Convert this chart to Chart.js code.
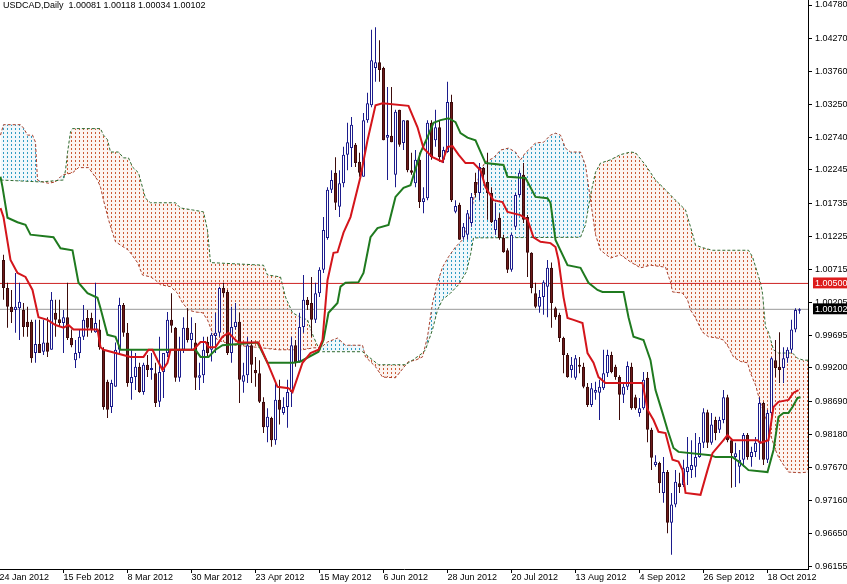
<!DOCTYPE html>
<html>
<head>
<meta charset="utf-8">
<script src="https://cdn.jsdelivr.net/npm/chart.js@4.4.1/dist/chart.umd.min.js"></script>
<style>
  html, body { margin: 0; padding: 0; background: #fff; }
  #wrap { position: relative; width: 847px; height: 584px; }
  #title { position: absolute; left: 3px; top: 0px; font: 9px "Liberation Sans", Arial, sans-serif; color: #000; white-space: pre; }
</style>
</head>
<body>
<div id="wrap">
  <canvas id="chart" width="847" height="584"></canvas>
  <div id="title"></div>
</div>
<script>
const symbol = 'USDCAD'
const period = 'Daily'

// daily candles, one per trading day (index 0 = 25 Jan 2012)
const opens = [
  1.0086,1.0043,1.0014,1.0009,1.0012,1.0009,0.9991,0.9991,0.9943,0.9957,
  0.9945,0.9959,0.9948,1.0005,0.9995,0.9989,0.9998,0.9966,0.9932,0.9943,
  0.9968,0.9997,0.9997,0.9975,0.9979,0.9948,0.9899,0.9860,0.9891,0.9948,
  1.0017,0.9974,0.9897,0.9906,0.9922,0.9883,0.9925,0.9917,0.9912,0.9868,
  0.9914,0.9943,0.9994,0.9982,0.9905,0.9948,0.9982,0.9963,0.9959,0.9905,
  0.9909,0.9960,0.9948,0.9969,0.9974,1.0043,1.0037,0.9943,0.9983,0.9991,
  0.9899,0.9909,0.9955,0.9917,0.9912,0.9868,0.9829,0.9843,0.9809,0.9871,
  0.9851,0.9860,0.9883,0.9955,0.9930,0.9983,1.0025,1.0020,0.9994,1.0035,
  1.0071,1.0120,1.0194,1.0220,1.0168,1.0204,1.0248,1.0258,1.0263,1.0237,
  1.0214,1.0301,1.0324,1.0381,1.0390,1.0381,1.0274,1.0277,1.0217,1.0317,
  1.0266,1.0301,1.0224,1.0204,1.0240,1.0175,1.0181,1.0297,1.0270,1.0290,
  1.0240,1.0252,1.0329,1.0160,1.0171,1.0121,1.0125,1.0143,1.0206,1.0189,
  1.0228,1.0206,1.0189,1.0132,1.0151,1.0120,1.0101,1.0071,1.0137,1.0186,
  1.0217,1.0152,1.0097,1.0035,1.0014,1.0029,1.0045,1.0074,1.0012,1.0002,
  0.9966,0.9940,0.9917,0.9905,0.9925,0.9922,0.9891,0.9863,0.9882,0.9882,
  0.9889,0.9912,0.9940,0.9922,0.9906,0.9879,0.9891,0.9922,0.9875,0.9851,
  0.9858,0.9905,0.9825,0.9771,0.9774,0.9728,0.9760,0.9682,0.9710,0.9743,
  0.9740,0.9760,0.9763,0.9768,0.9783,0.9805,0.9852,0.9805,0.9840,0.9825,
  0.9840,0.9875,0.9809,0.9783,0.9768,0.9779,0.9817,0.9783,0.9791,0.9805,
  0.9866,0.9779,0.9851,0.9932,0.9922,0.9920,0.9935,0.9948,0.9979,1.00081
]
const highs = [
  1.0094,1.0051,1.0040,1.0066,1.0051,1.0020,1.0014,0.9994,0.9994,0.9994,
  0.9994,0.9998,1.0037,1.0025,1.0025,1.0009,1.0051,0.9979,0.9963,0.9979,
  1.0017,1.0009,1.0005,1.0051,0.9994,0.9952,0.9902,0.9902,0.9959,1.0028,
  1.0020,0.9989,0.9948,0.9943,0.9928,0.9928,0.9940,0.9943,0.9928,0.9968,
  0.9943,1.0006,1.0035,0.9983,0.9968,0.9998,1.0012,0.9998,0.9989,0.9928,
  0.9968,0.9968,0.9974,1.0005,1.0045,1.0051,1.0040,1.0014,1.0020,1.0005,
  0.9928,0.9968,0.9963,0.9937,0.9932,0.9875,0.9858,0.9845,0.9897,0.9902,
  0.9875,0.9902,0.9968,0.9963,1.0005,1.0063,1.0029,1.0060,1.0051,1.0075,
  1.0152,1.0198,1.0224,1.0244,1.0224,1.0260,1.0297,1.0306,1.0266,1.0251,
  1.0312,1.0343,1.0440,1.0444,1.0424,1.0383,1.0352,1.0352,1.0317,1.0317,
  1.0301,1.0301,1.0251,1.0255,1.0251,1.0198,1.0301,1.0301,1.0317,1.0301,
  1.0260,1.0360,1.0340,1.0178,1.0174,1.0143,1.0163,1.0189,1.0220,1.0235,
  1.0229,1.0251,1.0198,1.0174,1.0158,1.0125,1.0104,1.0128,1.0189,1.0224,
  1.0235,1.0155,1.0098,1.0051,1.0040,1.0055,1.0086,1.0082,1.0014,1.0005,
  0.9968,0.9943,0.9937,0.9940,0.9937,0.9928,0.9897,0.9897,0.9899,0.9902,
  0.9948,0.9948,0.9945,0.9925,0.9909,0.9897,0.9930,0.9928,0.9879,0.9874,
  0.9914,0.9914,0.9828,0.9786,0.9776,0.9783,0.9763,0.9728,0.9763,0.9759,
  0.9779,0.9814,0.9809,0.9820,0.9814,0.9858,0.9856,0.9851,0.9845,0.9845,
  0.9886,0.9879,0.9812,0.9805,0.9794,0.9820,0.9820,0.9799,0.9814,0.9875,
  0.9868,0.9856,0.9937,0.9963,0.9975,0.9952,0.9952,0.9994,1.0012,1.00118
]
const lows = [
  1.0025,0.9982,0.9989,0.9974,0.9963,0.9968,0.9968,0.9928,0.9928,0.9943,
  0.9940,0.9937,0.9948,0.9968,0.9983,0.9943,0.9963,0.9952,0.9920,0.9935,
  0.9963,0.9968,0.9974,0.9974,0.9948,0.9856,0.9843,0.9851,0.9891,0.9943,
  0.9968,0.9891,0.9871,0.9886,0.9882,0.9879,0.9906,0.9902,0.9860,0.9860,
  0.9874,0.9937,0.9974,0.9899,0.9899,0.9943,0.9959,0.9948,0.9886,0.9886,
  0.9897,0.9937,0.9930,0.9943,0.9968,1.0029,0.9940,0.9928,0.9979,0.9866,
  0.9882,0.9897,0.9897,0.9891,0.9866,0.9820,0.9806,0.9799,0.9802,0.9833,
  0.9848,0.9828,0.9860,0.9922,0.9928,0.9974,1.0009,0.9968,0.9989,1.0029,
  1.0066,1.0117,1.0189,1.0163,1.0152,1.0198,1.0224,1.0229,1.0229,1.0214,
  1.0214,1.0297,1.0321,1.0360,1.0360,1.0270,1.0209,1.0267,1.0198,1.0260,
  1.0255,1.0221,1.0217,1.0198,1.0166,1.0158,1.0178,1.0240,1.0260,1.0237,
  1.0235,1.0251,1.0175,1.0158,1.0117,1.0117,1.0117,1.0137,1.0183,1.0178,
  1.0204,1.0148,1.0143,1.0125,1.0117,1.0097,1.0066,1.0068,1.0132,1.0183,
  1.0143,1.0060,1.0035,1.0012,1.0005,1.0002,0.9998,0.9982,0.9994,0.9960,
  0.9912,0.9905,0.9905,0.9902,0.9912,0.9889,0.9860,0.9860,0.9871,0.9840,
  0.9886,0.9906,0.9912,0.9902,0.9840,0.9866,0.9886,0.9856,0.9856,0.9845,
  0.9856,0.9806,0.9763,0.9768,0.9728,0.9713,0.9666,0.9633,0.9706,0.9728,
  0.9737,0.9740,0.9751,0.9752,0.9782,0.9797,0.9797,0.9802,0.9809,0.9820,
  0.9835,0.9806,0.9736,0.9737,0.9743,0.9768,0.9779,0.9768,0.9783,0.9779,
  0.9771,0.9774,0.9840,0.9906,0.9897,0.9897,0.9928,0.9943,0.9975,1.00034
]
const closes = [
  1.0043,1.0014,1.0006,1.0014,1.0022,0.9983,0.9983,0.9935,0.9957,0.9943,
  0.9959,0.9945,1.0025,0.9994,0.9989,0.9998,0.9966,0.9955,0.9943,0.9968,
  0.9994,0.9982,0.9979,0.9989,0.9952,0.9860,0.9856,0.9897,0.9948,1.0017,
  0.9974,0.9897,0.9906,0.9922,0.9883,0.9925,0.9917,0.9920,0.9866,0.9914,
  0.9943,0.9994,0.9985,0.9905,0.9948,0.9982,0.9963,0.9974,0.9905,0.9909,
  0.9948,0.9943,0.9971,0.9974,1.0043,1.0035,0.9943,0.9983,0.9991,0.9902,
  0.9909,0.9955,0.9925,0.9912,0.9868,0.9829,0.9845,0.9809,0.9871,0.9856,
  0.9860,0.9883,0.9955,0.9928,0.9983,1.0025,1.0017,0.9994,1.0035,1.0071,
  1.0132,1.0194,1.0209,1.0174,1.0204,1.0248,1.0267,1.0294,1.0235,1.0220,
  1.0301,1.0327,1.0393,1.0390,1.0378,1.0270,1.0278,1.0267,1.0314,1.0263,
  1.0301,1.0224,1.0220,1.0240,1.0175,1.0181,1.0297,1.0244,1.0290,1.0244,
  1.0255,1.0329,1.0178,1.0169,1.0117,1.0137,1.0158,1.0183,1.0189,1.0229,
  1.0217,1.0189,1.0144,1.0148,1.0120,1.0098,1.0071,1.0125,1.0186,1.0220,
  1.0148,1.0097,1.0043,1.0014,1.0029,1.0052,1.0074,1.0020,0.9998,0.9966,
  0.9940,0.9906,0.9925,0.9935,0.9922,0.9891,0.9863,0.9889,0.9886,0.9891,
  0.9912,0.9940,0.9914,0.9906,0.9879,0.9891,0.9923,0.9858,0.9858,0.9858,
  0.9902,0.9825,0.9782,0.9776,0.9743,0.9760,0.9682,0.9710,0.9745,0.9737,
  0.9766,0.9768,0.9771,0.9783,0.9805,0.9852,0.9805,0.9833,0.9820,0.9840,
  0.9875,0.9809,0.9789,0.9789,0.9779,0.9817,0.9783,0.9791,0.9805,0.9866,
  0.9779,0.9851,0.9935,0.9920,0.9917,0.9935,0.9948,0.9979,1.0009,1.00102
]

// ichimoku lines, [bar index, price] at the corners
const tenkan = [
  [-0.75,1.0166],[0,1.0152],[1.75,1.0086],[3.5,1.0066],[5.5,1.0060],[7.25,1.0040],[8.75,0.9998],[11,0.9994],
  [13,0.9986],[15,0.9982],[16.25,0.9986],[17.5,0.9979],[23.5,0.9979],[24.25,0.9952],[25,0.9948],[31.75,0.9937],
  [35,0.9937],[36.25,0.9948],[37.25,0.9948],[38.5,0.9932],[39.75,0.9917],[41,0.9928],[41.75,0.9948],[47.5,0.9948],
  [49.25,0.9960],[50.5,0.9960],[51.25,0.9952],[53,0.9952],[54.75,0.9968],[56.25,0.9974],[58,0.9963],[58.75,0.9959],
  [63.75,0.9959],[66,0.9928],[68.5,0.9891],[71.25,0.9889],[72.25,0.9883],[74.75,0.9928],[76.75,0.9943],[78.75,0.9948],
  [79.75,0.9963],[81,1.0055],[82.5,1.0097],[83.5,1.0098],[85,1.0128],[86.75,1.0152],[89.25,1.0214],[91,1.0270],
  [93,1.0324],[94.75,1.0327],[101.25,1.0323],[103.5,1.0290],[105,1.0258],[107.25,1.0244],[109.75,1.0237],[111,1.0260],
  [112.25,1.0261],[113.75,1.0248],[115.5,1.0235],[117.5,1.0235],[119.25,1.0224],[120.5,1.0198],[122.5,1.0178],[124.75,1.0175],
  [126,1.0160],[129.25,1.0155],[131,1.0148],[132.5,1.0121],[134.25,1.0114],[136.75,1.0112],[138,1.0106],[138.75,1.0086],
  [140,1.0029],[141,0.9997],[142.5,0.9994],[144.75,0.9989],[146,0.9943],[147.5,0.9928],[148.75,0.9906],[150.5,0.9897],
  [159.75,0.9897],[161,0.9856],[162.5,0.9840],[163.75,0.9822],[165.5,0.9820],[167.25,0.9779],[168.75,0.9776],[169.75,0.9763],
  [170.5,0.9728],[174.25,0.9725],[176,0.9763],[177.25,0.9789],[180,0.9809],[181,0.9817],[182.25,0.9809],[188.5,0.9809],
  [189.25,0.9805],[191.25,0.9809],[192.5,0.9860],[193.75,0.9868],[196.25,0.9871],[197.5,0.9882],[198.75,0.9886]
]
const kijun = [
  [-0.75,1.0214],[-0.25,1.0198],[1,1.0151],[3.5,1.0144],[5.5,1.0140],[6.75,1.0125],[12.5,1.0121],[14.25,1.0104],
  [17.25,1.0101],[18.75,1.0051],[21,1.0035],[23.5,1.0028],[24.25,1.0012],[26,0.9971],[28,0.9968],[29.25,0.9948],
  [48,0.9948],[49.25,0.9937],[51.25,0.9937],[53,0.9948],[54.75,0.9955],[63.5,0.9959],[66,0.9928],[72.5,0.9928],
  [74.25,0.9930],[78.75,0.9945],[80,0.9963],[81.25,1.0005],[83.5,1.0020],[84.25,1.0045],[85.5,1.0051],[88.75,1.0052],
  [90,1.0066],[91.75,1.0121],[93.5,1.0135],[96.25,1.0140],[98,1.0183],[100,1.0197],[101.75,1.0201],[104.25,1.0251],
  [106,1.0275],[107.5,1.0297],[109.25,1.0301],[111.25,1.0304],[113,1.0298],[114.25,1.0281],[116,1.0274],[118,1.0270],
  [120.5,1.0235],[125,1.0232],[126,1.0214],[130.5,1.0212],[133,1.0183],[136,1.0181],[136.75,1.0174],[138,1.0117],
  [141,1.0078],[144.25,1.0074],[146.25,1.0051],[148.5,1.0040],[149.75,1.0037],[155,1.0037],[156.25,0.9998],[157.5,0.9968],
  [160,0.9963],[161.75,0.9932],[163,0.9886],[164.75,0.9851],[166,0.9825],[167.5,0.9797],[168.75,0.9791],[176.75,0.9786],
  [178,0.9783],[182.25,0.9783],[184.25,0.9774],[186.25,0.9763],[191,0.9760],[192.5,0.9794],[193.75,0.9845],[195,0.9851],
  [196.25,0.9851],[197.25,0.9860],[198.5,0.9874],[199.25,0.9875]
]
const spanA = [
  [-0.75,1.0278],[0,1.0294],[4.25,1.0294],[5,1.0289],[6,1.0278],[7.25,1.0278],[8,1.0267],[8.5,1.0209],
  [9.75,1.0206],[11.25,1.0204],[13,1.0206],[14.25,1.0214],[15,1.0217],[17.25,1.0220],[18.75,1.0228],[21.25,1.0228],
  [23.5,1.0209],[24.25,1.0198],[25,1.0178],[26.25,1.0148],[27.25,1.0128],[28,1.0114],[29.25,1.0109],[31.25,1.0101],
  [33.5,1.0082],[34.75,1.0063],[36.75,1.0060],[38,1.0055],[39.25,1.0048],[41.75,1.0045],[43.5,1.0035],[44.75,1.0020],
  [46.25,1.0009],[48,1.0006],[49.75,1.0005],[51,0.9994],[52.25,0.9974],[53.5,0.9963],[55.5,0.9959],[58,0.9955],
  [63,0.9952],[68.75,0.9948],[74.75,0.9948],[77.5,0.9951],[79.25,0.9951],[81,0.9960],[83.5,0.9966],[85.5,0.9955],
  [89.75,0.9955],[90.5,0.9937],[93,0.9922],[94.75,0.9906],[98,0.9905],[101.25,0.9930],[103,0.9932],[104.75,0.9937],
  [106,0.9968],[107.25,1.0020],[108.5,1.0051],[109.75,1.0075],[111.25,1.0091],[113,1.0106],[114.75,1.0117],[116.75,1.0155],
  [118,1.0194],[119.25,1.0224],[120.5,1.0237],[122.5,1.0243],[124.25,1.0255],[126.25,1.0258],[128,1.0252],[129.25,1.0240],
  [130.5,1.0251],[131.75,1.0258],[133,1.0266],[135,1.0267],[136.75,1.0278],[138,1.0281],[139.25,1.0278],[140.5,1.0258],
  [141.75,1.0252],[144.25,1.0252],[145.5,1.0232],[146.75,1.0178],[148,1.0125],[149.25,1.0101],[151.75,1.0089],[154.25,1.0094],
  [156.75,1.0083],[159.25,1.0074],[161.75,1.0078],[165.5,1.0075],[166.75,1.0052],[167.25,1.0037],[169.75,1.0035],[171,1.0025],
  [171.75,1.0009],[173,0.9997],[174.75,0.9975],[176.25,0.9968],[178.5,0.9966],[180,0.9963],[181.25,0.9952],[182.5,0.9937],
  [184.25,0.9930],[186,0.9928],[186.75,0.9912],[188,0.9894],[189.25,0.9866],[190.5,0.9845],[191.75,0.9817],[193,0.9794],
  [193.75,0.9783],[195,0.9771],[196.25,0.9760],[199.25,0.9759],[201.25,0.9760]
]
const spanB = [
  [-0.75,1.0209],[9.25,1.0206],[15,1.0209],[15.5,1.0224],[16,1.0251],[16.75,1.0283],[17.25,1.0288],[24.25,1.0288],
  [25,1.0278],[26,1.0271],[26.75,1.0252],[28.75,1.0252],[30,1.0243],[31.25,1.0243],[32.25,1.0229],[33.75,1.0220],
  [35.5,1.0181],[36.75,1.0174],[43,1.0174],[44.25,1.0166],[47.25,1.0163],[50,1.0160],[51,1.0132],[51.75,1.0082],
  [65,1.0078],[66,1.0063],[69.25,1.0060],[70.5,1.0029],[72.25,1.0005],[74.25,0.9998],[76,0.9994],[77.5,0.9968],
  [78.75,0.9951],[79.75,0.9945],[89.75,0.9945],[93.75,0.9925],[100.5,0.9925],[102.25,0.9932],[104.75,0.9943],[105.5,0.9948],
  [107.25,0.9979],[108.5,1.0009],[109.75,1.0025],[111.75,1.0035],[113.75,1.0048],[115.75,1.0068],[116.75,1.0094],[117.5,1.0120],
  [144.25,1.0121],[145.5,1.0140],[146.75,1.0186],[148,1.0221],[149.25,1.0235],[151.75,1.0240],[154.25,1.0248],[156.75,1.0252],
  [158,1.0251],[160.5,1.0232],[163,1.0209],[165.5,1.0194],[168,1.0178],[170.5,1.0163],[171.75,1.0137],[172.5,1.0121],
  [173,1.0109],[174.75,1.0105],[177.25,1.0101],[186.25,1.0101],[187.25,1.0091],[188.5,1.0066],[189.25,1.0051],[189.75,1.0035],
  [190.5,0.9983],[191.25,0.9975],[192.5,0.9948],[193.75,0.9943],[197.25,0.9943],[198.5,0.9935],[200,0.9932],[201.25,0.9932]
]

const resistance = 1.00500
const bidPrice = 1.00102

const priceTicks = [1.04780, 1.04270, 1.03760, 1.03250, 1.02740, 1.02245, 1.01735, 1.01225, 1.00715,
  1.00205, 0.99695, 0.99200, 0.98690, 0.98180, 0.97670, 0.97160, 0.96650, 0.96155]
const dateTickIdx = [-1, 15, 31, 47, 63, 79, 95, 111, 127, 143, 159, 175, 191]
const dateLabels = ['24 Jan 2012', '15 Feb 2012', '8 Mar 2012', '30 Mar 2012', '23 Apr 2012', '15 May 2012',
  '6 Jun 2012', '28 Jun 2012', '20 Jul 2012', '13 Aug 2012', '4 Sep 2012', '26 Sep 2012', '18 Oct 2012']


const X_MIN = -0.875
const X_MAX = 201.125
const FONT = { family: '"Liberation Sans", Arial, sans-serif', size: 9, lineHeight: 1.1 }

const last = opens.length - 1
document.querySelector('#title').textContent = `${symbol},${period}  ${opens[last].toFixed(5)} ${highs[last].toFixed(5)} ${lows[last].toFixed(5)} ${closes[last].toFixed(5)}`

const canvas = document.querySelector('#chart')
const ctx = canvas.getContext('2d')

// dotted hatching like the MT4 cloud histogram, one dotted column per bar
function dotPattern(color, tint) {
    const tile = document.createElement('canvas')
    tile.width = 4
    tile.height = 4
    const t = tile.getContext('2d')
    t.fillStyle = tint
    t.fillRect(0, 0, 4, 4)
    t.fillStyle = color
    t.fillRect(3, 0, 1, 2)
    return ctx.createPattern(tile, 'repeat')
}
const blueDots = dotPattern('#2f9cc4', 'rgba(120,190,215,0.10)')
const brownDots = dotPattern('#cc5a34', 'rgba(230,150,120,0.10)')

const idx = opens.map((_, i) => i)
const bull = idx.map(i => closes[i] >= opens[i])
const wickData = idx.map(i => ({ x: i, y: [lows[i], highs[i]] }))
const bodyData = idx.map(i => ({ x: i, y: [opens[i], closes[i]] }))
const xy = pts => pts.map(p => ({ x: p[0], y: p[1] }))
const flat = v => [{ x: X_MIN, y: v }, { x: X_MAX, y: v }]

const lineBase = { type: 'line', pointRadius: 0, tension: 0, fill: false }

new Chart(ctx, {
    type: 'bar',
    data: {
        datasets: [
            { ...lineBase, label: 'Senkou Span A', data: xy(spanA), borderColor: '#a8402c', borderWidth: 1, borderDash: [3, 2],
              fill: { target: '+1', above: blueDots, below: brownDots }, order: 10 },
            { ...lineBase, label: 'Senkou Span B', data: xy(spanB), borderColor: '#2f6b2f', borderWidth: 1, borderDash: [3, 2], order: 9 },
            { ...lineBase, label: 'level', data: flat(resistance), borderColor: '#cc2222', borderWidth: 1, order: 8 },
            { ...lineBase, label: 'bid', data: flat(bidPrice), borderColor: '#9a9a9a', borderWidth: 1, order: 8 },
            {
                type: 'bar', label: 'wicks', data: wickData, barThickness: 1, grouped: false,
                backgroundColor: c => bull[c.dataIndex] ? '#1c1c8c' : '#3c0b0b',
                borderWidth: 0, inflateAmount: 0, minBarLength: 1, order: 6
            },
            {
                type: 'bar', label: 'bodies', data: bodyData, barThickness: 3, grouped: false,
                backgroundColor: c => bull[c.dataIndex] ? '#ffffff' : '#6e1a1a',
                borderColor: c => bull[c.dataIndex] ? '#1c1c8c' : '#3c0b0b',
                borderWidth: 1, borderSkipped: false, inflateAmount: 0, minBarLength: 1, order: 5
            },
            { ...lineBase, label: 'Kijun-sen', data: xy(kijun), borderColor: '#1f7a1f', borderWidth: 2, order: 2 },
            { ...lineBase, label: 'Tenkan-sen', data: xy(tenkan), borderColor: '#d4151b', borderWidth: 2, order: 1 }
        ]
    },
    options: {
        responsive: false,
        animation: false,
        devicePixelRatio: 1,
        events: [],
        layout: { padding: 0 },
        plugins: { legend: { display: false }, tooltip: { enabled: false } },
        scales: {
            x: {
                type: 'linear', min: X_MIN, max: X_MAX, offset: false,
                afterBuildTicks: s => { s.ticks = dateTickIdx.map(v => ({ value: v })) },
                afterFit: s => { s.height = 15; s.paddingLeft = 0; s.paddingRight = 0 },
                grid: { drawOnChartArea: false, offset: false, tickLength: 4, color: '#000' },
                border: { display: true, color: '#000', width: 1 },
                ticks: {
                    autoSkip: false, maxRotation: 0, minRotation: 0, align: 'start', padding: 0,
                    font: FONT, color: '#000',
                    callback: (v, i) => dateLabels[i]
                }
            },
            y: {
                type: 'linear', position: 'right', min: 0.9611, max: 1.04857,
                afterBuildTicks: s => { s.ticks = priceTicks.concat([resistance, bidPrice]).map(v => ({ value: v })) },
                afterFit: s => { s.width = 39; s.paddingTop = 0; s.paddingBottom = 0 },
                grid: {
                    drawOnChartArea: false, tickLength: 4,
                    color: c => (c.tick && (c.tick.value === resistance || c.tick.value === bidPrice)) ? 'rgba(0,0,0,0)' : '#000'
                },
                border: { display: true, color: '#000', width: 1 },
                ticks: {
                    autoSkip: false, padding: 3, font: FONT,
                    callback: v => Number(v).toFixed(5),
                    color: c => (c.tick.value === resistance || c.tick.value === bidPrice) ? '#ffffff' : '#000',
                    showLabelBackdrop: c => c.tick.value === resistance || c.tick.value === bidPrice,
                    backdropColor: c => c.tick.value === resistance ? '#dd1c1c' : '#000000',
                    backdropPadding: { top: 1, bottom: 0, left: 2, right: 6 }
                }
            }
        }
    }
})
</script>
</body>
</html>
